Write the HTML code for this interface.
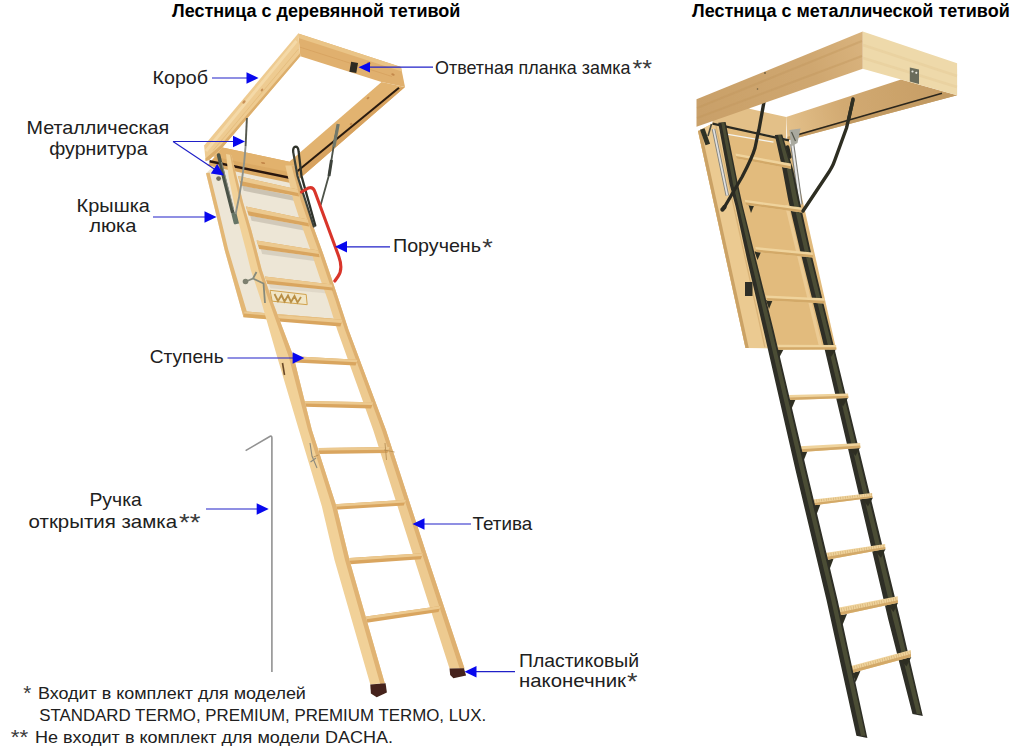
<!DOCTYPE html>
<html lang="ru">
<head>
<meta charset="utf-8">
<title>Лестница</title>
<style>
html,body{margin:0;padding:0;background:#fff;}
body{width:1024px;height:751px;overflow:hidden;font-family:"Liberation Sans",sans-serif;}
svg{display:block;}
text{font-family:"Liberation Sans",sans-serif;fill:#202020;}
.as{font-size:24px;fill:#3a3a3a;}
.f{font-size:16.6px;}
.fa{font-size:21px;fill:#3a3a3a;}
.t{font-size:19px;}
.b{font-size:18px;font-weight:bold;fill:#000;}
.ar{stroke:#2020c8;stroke-width:1.2;fill:none;}
.ah{fill:#0808ee;stroke:none;}
</style>
</head>
<body>
<svg width="1024" height="751" viewBox="0 0 1024 751">
<defs>
<linearGradient id="wood1" x1="0" y1="0" x2="1" y2="0">
<stop offset="0" stop-color="#e6bd7f"/><stop offset="1" stop-color="#d9a662"/>
</linearGradient>
<filter id="soft" x="-5%" y="-5%" width="110%" height="110%"><feGaussianBlur stdDeviation="0.45"/></filter>
<linearGradient id="longface" gradientUnits="userSpaceOnUse" x1="697" y1="110" x2="862" y2="50"><stop offset="0" stop-color="#c9a069"/><stop offset="0.7" stop-color="#cfa770"/><stop offset="1" stop-color="#d8b27c"/></linearGradient>
<linearGradient id="farside" gradientUnits="userSpaceOnUse" x1="787" y1="128" x2="950" y2="88"><stop offset="0" stop-color="#e3c08a"/><stop offset="0.35" stop-color="#d2aa72"/><stop offset="1" stop-color="#c59c64"/></linearGradient>
</defs>
<rect x="0" y="0" width="1024" height="751" fill="#ffffff"/>

<!-- LEFT LADDER -->
<g id="leftLadder" filter="url(#soft)">
<!--LL-START-->
<!-- box: back rail (inner face) -->
<polygon points="298.2,33.5 401,67 405,87 381.5,82 300.3,56.2" fill="#e0b06e"/>
<polygon points="298.2,33.5 401,67 401.8,71.5 298.6,38" fill="#eac486"/>
<path d="M299.5 47L392 76.5" stroke="#c98f4c" stroke-width="0.8" fill="none" opacity="0.45"/>
<!-- box: right rail -->
<polygon points="381.5,82 405,87 299.5,178.8 289.6,161.5" fill="#e2b370"/>
<polygon points="397.5,88 405,87 299.5,178.8 296.5,173" fill="#d7a25e"/>
<path d="M399,87.8L297,171.5" stroke="#2a1a10" stroke-width="2.1" fill="none"/>
<!-- box: left rail (outer face) -->
<polygon points="298.2,33.5 300.3,56.2 222.4,147.4 209.2,160 205.6,161.1 204.1,145.6" fill="#eecb91"/>
<polygon points="300,53.2 300.3,56.2 222.4,147.4 209.2,160 205.6,161.1 205.4,158.6 220.5,145.5" fill="#dcae6c"/>
<path d="M296.5 41L206 151" stroke="#f6deb0" stroke-width="3" fill="none" opacity="0.7"/>
<path d="M298.5 49L213 150.5" stroke="#dcae6c" stroke-width="0.8" fill="none" opacity="0.6"/>
<!-- hatch -->
<polygon points="206,173.3 216.6,216.6 224.6,250 243.5,317.3 344.5,326.3 325,270 296,166 222,158" fill="#ede6d6"/>
<polygon points="206,173.3 209.6,172.4 220.2,215.8 228.2,249.2 247.5,313.8 243.5,317.3 224.6,250 216.6,216.6" fill="#e3b775"/>
<!-- rung shadows on panel -->
<g fill="#c2baaa">
<polygon opacity="0.8" points="242.1,185.6 293.0,195.8 294.0,200.8 243.6,190.8"/>
<polygon opacity="0.65" points="250.1,215.6 303.0,225.6 304.0,230.6 251.6,220.8"/>
<polygon opacity="0.5" points="260.7,249.1 313.6,256.4 314.6,261.0 262.2,253.9"/>
<polygon opacity="0.3" points="268.9,284.1 327.2,289.6 328.2,293.6 270.4,288.3"/>
</g>
<polygon points="243.5,317.3 244.3,311.3 343,319.5 344.5,326" fill="#dba961"/>
<polygon points="244,313.5 244.3,311.3 343,319.5 343.5,321.8" fill="#eac78d"/>
<!-- front rail of box -->
<polygon points="222.4,147.4 291.9,162.3 296.7,184.2 207.5,165.6" fill="#dba964"/>
<polygon points="222.4,147.4 291.9,162.3 294,173 213,156.5" fill="#e2b26d"/>
<path d="M209.5,161.3L295.8,179" stroke="#2a1810" stroke-width="2.4" fill="none"/>
<!-- hinge arm left -->
<path d="M218.6,155L224,178L232.6,212" stroke="#4b5246" stroke-width="3.6" fill="none" stroke-linecap="round"/>
<path d="M221.5,162L233.8,210" stroke="#8d9186" stroke-width="0.9" fill="none"/>
<rect x="232.5" y="212" width="7.5" height="12" rx="1.5" fill="#667466" transform="rotate(-14 236 218)"/>
<circle cx="218.6" cy="178.6" r="2.4" fill="#6d6a58"/>
<!-- right stringer -->
<polygon points="285.3,165.5 293.3,200.0 302.0,226.6 311.6,253.2 319.2,276.0 327.8,300.0 337.3,330.0 373.2,430.0 414.7,560.0 449.5,668.5 464.5,668.5 428.5,560.0 386.0,430.0 348.6,330.0 338.8,300.0 330.8,276.0 323.0,253.2 313.3,226.6 304.0,200.0 294.3,165.5" fill="#edca90"/>
<polygon points="291.4,165.5 300.6,200.0 309.7,226.6 319.4,253.2 327.1,276.0 335.3,300.0 345.0,330.0 381.9,430.0 424.1,560.0 459.7,668.5 464.5,668.5 428.5,560.0 386.0,430.0 348.6,330.0 338.8,300.0 330.8,276.0 323.0,253.2 313.3,226.6 304.0,200.0 294.3,165.5" fill="#deb06f"/>
<!-- rungs -->
<g fill="#d9a55f">
<polygon points="238.0,176.0 297.8,189.6 299.0,196.6 240.6,185.6"/>
<polygon points="246.0,206.6 307.8,219.6 309.0,226.4 248.6,215.6"/>
<polygon points="256.6,240.5 318.4,250.6 319.6,257.2 259.2,249.1"/>
<polygon points="264.8,276.5 332.0,284.4 333.2,290.4 267.4,284.1"/>
<polygon points="277.8,314.9 342.6,319.8 340.4,326.4 278.4,321.5"/>
<polygon points="293.7,356.3 357.7,359.7 355.5,365.5 294.3,362.6"/>
<polygon points="304.1,401.0 373.3,402.2 371.1,408.4 304.7,406.8"/>
<polygon points="318.6,447.9 389.6,447.0 387.4,453.0 319.2,454.0"/>
<polygon points="334.2,504.2 406.0,499.8 403.8,505.6 334.8,509.8"/>
<polygon points="349.5,558.0 423.0,553.2 420.8,559.2 350.1,564.2"/>
<polygon points="366.0,616.4 440.7,605.9 438.5,612.1 366.8,622.8"/>
</g>
<g fill="#ecc98f">
<polygon points="238.0,176.0 297.8,189.6 298.4,193.1 239.3,180.8"/>
<polygon points="246.0,206.6 307.8,219.6 308.4,223.0 247.3,211.1"/>
<polygon points="256.6,240.5 318.4,250.6 319.0,253.9 257.9,244.8"/>
<polygon points="264.8,276.5 332.0,284.4 332.6,287.4 266.1,280.3"/>
<polygon points="277.8,314.9 342.6,319.8 341.5,323.1 278.1,318.2"/>
<polygon points="293.7,356.3 357.7,359.7 356.7,362.3 294.0,359.1"/>
<polygon points="304.1,401.0 373.3,402.2 372.3,405.0 304.4,403.6"/>
<polygon points="318.6,447.9 389.6,447.0 388.6,449.7 318.9,450.6"/>
<polygon points="334.2,504.2 406.0,499.8 405.0,502.4 334.5,506.7"/>
<polygon points="349.5,558.0 423.0,553.2 422.0,555.9 349.8,560.8"/>
<polygon points="366.0,616.4 440.7,605.9 439.7,608.7 366.4,619.3"/>
</g>
<!-- left stringer -->
<polygon points="226.0,154.0 228.6,176.6 234.0,203.3 240.6,229.9 245.9,250.0 250.8,270.0 260.8,300.0 277.2,357.0 298.9,430.0 321.9,506.5 334.5,560.0 370.3,684.5 384.7,683.0 349.5,560.0 336.5,506.5 311.9,430.0 293.7,357.0 272.0,300.0 261.8,270.0 256.6,250.0 251.3,229.9 243.3,203.3 236.6,176.6 231.5,155.0" fill="#f1d198"/>
<polygon points="229.8,154.0 234.2,176.6 240.5,203.3 248.1,229.9 253.4,250.0 258.5,270.0 268.6,300.0 288.8,357.0 308.0,430.0 332.1,506.5 345.0,560.0 380.4,684.5 384.7,683.0 349.5,560.0 336.5,506.5 311.9,430.0 293.7,357.0 272.0,300.0 261.8,270.0 256.6,250.0 251.3,229.9 243.3,203.3 236.6,176.6 231.5,155.0" fill="#e0b373"/>
<!-- strut left (thin grey, in front of rail) -->
<path d="M246.9,118L245.6,146" stroke="#55584f" stroke-width="1.9" fill="none"/><path d="M245.6,146Q243.3,180 235.6,214" stroke="#8e928a" stroke-width="1.9" fill="none"/>
<!-- feet -->
<polygon points="370.3,684.5 385.6,683.2 386.9,692.5 376.7,697.3 370.9,693.4" fill="#45241a"/>
<polygon points="449.5,668.5 463.9,668.3 466.1,675.5 453.4,678.3 450.2,674.9" fill="#45241a"/>
<!-- dark bracket right (two bars, U top) -->
<path d="M293.1,151.5Q293,146.8 295.6,146.6Q298.2,146.6 298.6,151.5L301.5,176L315.3,225.5" stroke="#2e322b" stroke-width="2.3" fill="none" stroke-linecap="round"/>
<path d="M293.1,151.5L297.5,176L313.8,226.5" stroke="#3a3f38" stroke-width="2.2" fill="none" stroke-linecap="round"/>
<!-- right strut -->
<path d="M338,124.5L334.5,141L329,175L320.6,205.3" stroke="#4e534a" stroke-width="1.8" fill="none"/>
<path d="M338.2,124L333.8,147" stroke="#6f776b" stroke-width="3.2" fill="none"/>
<path d="M331.5,160L329,176" stroke="#3e423b" stroke-width="3" fill="none"/>
<!-- red handrail -->
<path d="M301.5,192L308.5,188Q313,186.5 315,192L338.8,256.5Q343.3,269 338,276.5L334.8,281" stroke="#d9362c" stroke-width="3.1" fill="none" stroke-linecap="round"/>
<!-- latch + logo -->
<path d="M244.5,282L253,278.5L256.5,272M253,278.5L263.5,283.5L265,303" stroke="#868a7c" stroke-width="1.8" fill="none"/>
<circle cx="245.5" cy="281.5" r="2.8" fill="#7d806f"/>
<polygon points="270,290.3 306.2,294.5 307.2,304.7 272.2,301.2" fill="#f1e6c6" stroke="#d1a24d" stroke-width="1"/>
<path d="M274.5,294l3.5,7l3.5,-6l3,6.5l3.5,-6l3,6.5l3.5,-6l3,6.5l3.5,-5.5" stroke="#b98f45" stroke-width="1.8" fill="none"/>
<!-- lock plate -->
<rect x="350.2" y="62.2" width="7" height="10.2" fill="#2e2a22" transform="rotate(10 353.7 67.3)"/>
<!-- knots -->
<g fill="#b9793f" opacity="0.7">
<ellipse cx="244" cy="102" rx="1.3" ry="2" transform="rotate(40 244 102)"/>
<ellipse cx="262" cy="90" rx="1" ry="1.6" transform="rotate(40 262 90)"/>
<ellipse cx="369" cy="63" rx="2" ry="1" transform="rotate(20 369 63)"/>
<ellipse cx="393" cy="74.5" rx="1.8" ry="1" transform="rotate(20 393 74.5)"/>
<ellipse cx="368" cy="98" rx="1.6" ry="1" transform="rotate(-40 368 98)"/>
<ellipse cx="351" cy="124" rx="1.4" ry="0.9" transform="rotate(-40 351 124)"/>
<ellipse cx="263" cy="163" rx="2.2" ry="0.9" transform="rotate(12 263 163)"/>
</g>
<!-- slot on left stringer + hinges on mid section -->
<path d="M282.5,363L284.5,375" stroke="#6a4a28" stroke-width="1.6" fill="none"/>
<path d="M310,443L312,456L317,468M310.5,462L316,458" stroke="#8d8a7c" stroke-width="1.1" fill="none"/>
<path d="M313.5,457L318.5,455M384,450L394.5,452M385,443L386.5,460" stroke="#b38a50" stroke-width="0.8" fill="none"/>
<!-- handle rod (opening tool) -->
<path d="M245.6,450.6L270.2,436.3Q271.9,435.5 271.9,438V672" stroke="#929292" stroke-width="1.6" fill="none"/>
<!--LL-END-->
</g>

<!-- RIGHT LADDER -->
<g id="rightLadder" filter="url(#soft)">
<!--RL-START-->
<!-- box far long side (inner face) -->
<polygon points="901,79.6 957.1,95.2 787.5,140.6 786.2,117.1" fill="url(#farside)"/>
<polygon points="942,93.6 957.1,95.2 787.5,140.6 787.3,136.8" fill="#c29a62"/>
<path d="M942,93.3L797,135" stroke="#2a251c" stroke-width="1.6" fill="none"/>
<!-- box short end face (right) -->
<polygon points="862.7,31.5 957.1,63.2 957.1,95.2 862.7,68.7" fill="#eed9aa"/>
<path d="M863,45L957,76M863,58L957,87" stroke="#e6cc98" stroke-width="2.5" fill="none" opacity="0.5"/>
<!-- near short end inner face -->
<polygon points="712.5,118 748.6,104 749.5,108.8 786.2,117.1 786.2,138.6 712.5,123.6" fill="#e3c088"/>
<!-- lock plate -->
<polygon points="909.8,67.6 919,69.6 919,84 909.8,81.6" fill="#6a6c5c"/>
<circle cx="912.5" cy="71.5" r="1.1" fill="#e8e8e0"/><circle cx="916.3" cy="72.8" r="1.1" fill="#e8e8e0"/>
<!-- struts behind long face -->
<path d="M764.5,99L756,146" stroke="#2c2c22" stroke-width="3.4" fill="none" stroke-linecap="round"/>
<path d="M853,99L849,118" stroke="#2c2c22" stroke-width="3.4" fill="none" stroke-linecap="round"/>
<!-- box long side face -->
<polygon points="696.5,99.3 862.7,31.5 862.7,68.7 696.5,126.8" fill="url(#longface)"/>
<path d="M697,108L862,41M697,118L862,56" stroke="#c0955c" stroke-width="2.2" fill="none" opacity="0.4"/>
<circle cx="765" cy="73" r="0.9" fill="#6b5a3c"/><circle cx="757.5" cy="89" r="0.8" fill="#6b5a3c"/>
<!-- hatch -->
<polygon points="698,131 745.5,348 836,348.5 789,140 712.5,123.6" fill="#e2bb7d"/>
<polygon points="698,131 712.5,123.6 718.5,122.8 735.5,206 747.2,260 768.3,348.2 745.5,348" fill="#ebca91"/>
<polygon points="698,131 701.2,130.2 748.8,348 745.5,348" fill="#cba265"/>
<path d="M716,126L764.8,347" stroke="#d9b377" stroke-width="1.2" fill="none"/>
<path d="M786.5,205L820.5,346" stroke="#eccb94" stroke-width="3.2" fill="none"/>
<!-- hinge rod -->
<path d="M712.5,123.6L789,140.4" stroke="#2b2b22" stroke-width="2.2" fill="none"/>
<path d="M728,134.3L773.5,142.2" stroke="#f4f4f0" stroke-width="1.3" fill="none"/>
<!-- left bracket -->
<path d="M702.3,129L707.8,144.5" stroke="#2f3027" stroke-width="4.8" fill="none"/>
<path d="M711.5,124L708,136" stroke="#44453a" stroke-width="1.6" fill="none"/>
<!-- gas springs -->
<path d="M713.5,129L727.3,195.5" stroke="#85857f" stroke-width="3.6" fill="none"/>
<path d="M713.5,129L727.3,195.5" stroke="#e0e0e0" stroke-width="1.7" fill="none"/>
<path d="M792.2,144L800.6,204.5" stroke="#7d7d77" stroke-width="4.2" fill="none"/>
<path d="M792.2,144L800.6,204.5" stroke="#e8e8e8" stroke-width="2" fill="none"/>
<path d="M787.5,147L789.8,157" stroke="#2a2b22" stroke-width="3.6" fill="none" stroke-linecap="round"/>
<path d="M789.5,130L800.5,128.5L797.5,143L791,146.5Z" fill="#a9a99f"/>
<path d="M791.5,132L795.5,141" stroke="#55564a" stroke-width="1.2" fill="none"/>
<!-- right stringer -->
<polygon points="774.8,135.0 782.6,170.0 788.2,200.0 795.3,230.0 799.5,248.0 822.4,339.8 855.4,480.0 888.4,620.0 912.5,713.9 922.8,716.0 900.4,620.0 866.4,480.0 832.3,339.8 810.0,248.0 806.0,230.0 799.5,200.0 793.3,170.0 782.2,134.4" fill="#2e2f25"/>
<polygon points="777.9,135.0 787.1,170.0 792.9,200.0 799.8,230.0 803.9,248.0 826.6,339.8 860.0,480.0 893.4,620.0 916.8,713.9 920.9,713.9 898.2,620.0 864.4,480.0 830.5,339.8 808.1,248.0 804.1,230.0 797.5,200.0 791.4,170.0 780.9,135.0" fill="#4c4d36"/>
<!-- rung brackets (dark triangles) -->
<g fill="#2e2f22">
<polygon points="777,349 783.5,349.5 779,358"/><polygon points="825.5,350 836,349.2 831,357"/>
<polygon points="789,399 795.5,399.5 791.5,409"/><polygon points="837.5,398.5 848,397.8 843,406.5"/>
<polygon points="800.5,451.5 807.5,451 803.5,461"/><polygon points="849.5,448.5 860,447.5 855.5,456"/>
<polygon points="813.5,505 820.5,504.3 816.5,514.5"/><polygon points="862,498.7 873,497.6 868,506.5"/>
<polygon points="826.5,559.8 833.5,558.8 829.5,569.5"/><polygon points="875,550.5 885.5,549 881,558"/>
<polygon points="839.5,615.3 847,614 842.5,625"/><polygon points="887.5,604.7 898,602.8 893.5,612"/>
<polygon points="852.5,672.8 860.5,670.8 855.5,682.5"/><polygon points="900.5,660 911.3,657 906.5,666.5"/>
<polygon points="748.5,205 754,205.8 751,213"/>
<polygon points="754.5,251.5 761,252 757.5,260"/><polygon points="766,300 772.5,300.5 769,309"/>
</g>
<!-- rungs -->
<g fill="#efd39c">
<polygon points="735.5,153.4 790.8,163.6 791.1,168.8 736.5,158.6"/>
<polygon points="744.8,199.8 801.8,207.6 802.1,212.6 745.8,204.8"/>
<polygon points="755.4,247.1 812.7,252.5 813.0,257.5 756.4,252.1"/>
<polygon points="765.9,295.4 824.5,298.2 824.8,303.4 766.9,300.6"/>
<polygon points="777.0,344.8 836.1,345.0 836.4,349.6 778.0,349.8"/>
<polygon points="789.0,394.9 848.1,393.5 848.4,398.1 790.0,399.9"/>
<polygon points="799.9,446.3 860.1,442.9 860.4,447.9 800.9,452.1"/>
<polygon points="813.0,499.6 872.1,493.0 872.4,497.8 814.0,505.2"/>
<polygon points="824.9,552.9 885.1,543.9 885.4,549.1 825.9,559.9"/>
<polygon points="837.9,607.8 897.7,596.2 898.0,602.8 838.9,615.4"/>
<polygon points="851.0,665.9 910.7,649.9 911.0,656.9 852.0,672.9"/>
</g>
<g fill="#d3a968">
<polygon points="736.0,156.0 790.9,166.2 791.1,168.8 736.5,158.6"/>
<polygon points="745.3,202.3 801.9,210.1 802.1,212.6 745.8,204.8"/>
<polygon points="755.9,249.6 812.9,255.0 813.0,257.5 756.4,252.1"/>
<polygon points="766.4,298.0 824.6,300.8 824.8,303.4 766.9,300.6"/>
<polygon points="777.5,347.3 836.2,347.3 836.4,349.6 778.0,349.8"/>
<polygon points="789.5,397.4 848.2,395.8 848.4,398.1 790.0,399.9"/>
<polygon points="800.4,449.2 860.2,445.4 860.4,447.9 800.9,452.1"/>
<polygon points="813.5,503.0 872.2,495.9 872.4,497.8 814.0,505.2"/>
<polygon points="825.4,557.1 885.2,547.0 885.4,549.1 825.9,559.9"/>
<polygon points="838.4,612.4 897.9,600.2 898.0,602.8 838.9,615.4"/>
<polygon points="851.5,670.1 910.9,654.1 911.0,656.9 852.0,672.9"/>
</g>
<!-- tread ribs -->
<g stroke="#c39a5c" fill="none" stroke-dasharray="0.7 1.7" opacity="0.55">
<path d="M814,501L872.3,494.4" stroke-width="2.4"/>
<path d="M826,555.2L885.2,545.8" stroke-width="3"/>
<path d="M839,610.4L897.8,598.8" stroke-width="3.6"/>
<path d="M852,668.3L911,652.4" stroke-width="3.4"/>
</g>
<!-- left stringer -->
<polygon points="718.2,122.8 729.6,184.3 735.5,206.0 747.2,260.0 763.5,330.0 795.5,470.0 826.5,600.0 856.4,735.8 867.4,738.0 837.6,600.0 806.6,470.0 773.6,330.0 756.2,260.0 742.8,206.0 738.0,184.3 725.6,122.0" fill="#2e2f25"/>
<polygon points="721.3,122.8 733.1,184.3 738.6,206.0 751.0,260.0 767.7,330.0 800.2,470.0 831.2,600.0 861.0,735.8 865.4,735.8 835.6,600.0 804.6,470.0 771.8,330.0 754.6,260.0 741.5,206.0 736.5,184.3 724.3,122.8" fill="#4c4d36"/>
<!-- hinge bracket on hatch -->
<rect x="745" y="282" width="7.5" height="14" fill="#2e2f25"/>
<!-- struts lower (front) -->
<path d="M758.5,131L755,148Q752.5,157 742,177L724.5,207" stroke="#2c2c22" stroke-width="3.3" fill="none" stroke-linecap="round" stroke-linejoin="round"/>
<path d="M724.5,207L722.5,209.5" stroke="#2c2c22" stroke-width="4.4" fill="none" stroke-linecap="round"/>
<path d="M853,100L846.5,128L834.5,161Q832.5,167 827,175L803,211" stroke="#2e2e24" stroke-width="3.4" fill="none" stroke-linecap="round" stroke-linejoin="round"/>
<!--RL-END-->
</g>

<!-- ARROWS -->
<g id="arrows">
<!-- Короб -->
<path class="ar" d="M212 78H248"/><path class="ah" d="M258.5 78L246.5 72.3V83.7Z"/>
<!-- Металлическая фурнитура -->
<path class="ar" d="M173 141.5H234"/><path class="ah" d="M245 141.5L233 135.8V147.2Z"/>
<path class="ar" d="M173 141.5L215 169.5"/><path class="ah" d="M224 175.5L210.8 173.6L217.2 164.1Z"/>
<!-- Крышка люка -->
<path class="ar" d="M153 217H206"/><path class="ah" d="M216.5 217L204.5 211.3V222.7Z"/>
<!-- Ступень -->
<path class="ar" d="M227.5 358H294"/><path class="ah" d="M304.4 358L292.6 352.3V363.7Z"/>
<!-- Ответная планка -->
<path class="ar" d="M433 67.2H369"/><path class="ah" d="M358.5 67.2L370 61.9V72.5Z"/>
<!-- Поручень -->
<path class="ar" d="M390 246.8H346"/><path class="ah" d="M335 246.8L347 241.1V252.5Z"/>
<!-- Тетива -->
<path class="ar" d="M471 524H423"/><path class="ah" d="M412.5 524L424.5 518.3V529.7Z"/>
<!-- Пластиковый наконечник -->
<path class="ar" d="M515 671.7H476"/><path class="ah" d="M464.5 671.7L476.5 666V677.4Z"/>
<!-- Ручка -->
<path class="ar" d="M206 509H258"/><path class="ah" d="M268.7 509L256.7 503.3V514.7Z"/>
</g>

<!-- TEXT -->
<g id="labels">
<text class="b" x="172" y="16.6">Лестница с деревянной тетивой</text>
<text class="b" x="692" y="16.6">Лестница с металлической тетивой</text>

<text class="t" x="152.5" y="83.5" textLength="55.6" lengthAdjust="spacingAndGlyphs">Короб</text>
<text class="t" x="26.6" y="134" textLength="142.6" lengthAdjust="spacingAndGlyphs">Металлическая</text>
<text class="t" x="49.3" y="155" textLength="98.2" lengthAdjust="spacingAndGlyphs">фурнитура</text>
<text class="t" x="76.6" y="211.5" textLength="73.3" lengthAdjust="spacingAndGlyphs">Крышка</text>
<text class="t" x="89.2" y="232" textLength="47.3" lengthAdjust="spacingAndGlyphs">люка</text>
<text class="t" x="149.8" y="362.6" textLength="73.8" lengthAdjust="spacingAndGlyphs">Ступень</text>
<text class="t" x="393" y="252.3" textLength="88" lengthAdjust="spacingAndGlyphs">Поручень</text>
<text class="as" x="482.3" y="255.9" textLength="10.5" lengthAdjust="spacingAndGlyphs">*</text>
<text class="t" x="435" y="73.7" textLength="195.5" lengthAdjust="spacingAndGlyphs">Ответная планка замка</text>
<text class="as" x="632.5" y="77.4" textLength="19.5" lengthAdjust="spacingAndGlyphs">**</text>
<text class="t" x="89.4" y="506.2" textLength="52.5" lengthAdjust="spacingAndGlyphs">Ручка</text>
<text class="t" x="28.6" y="527.8" textLength="148.5" lengthAdjust="spacingAndGlyphs">открытия замка</text>
<text class="as" x="179" y="531.4" textLength="21.4" lengthAdjust="spacingAndGlyphs">**</text>
<text class="t" x="472.5" y="530" textLength="59.8" lengthAdjust="spacingAndGlyphs">Тетива</text>
<text class="t" x="519" y="666.5" textLength="120" lengthAdjust="spacingAndGlyphs">Пластиковый</text>
<text class="t" x="519" y="687" textLength="107" lengthAdjust="spacingAndGlyphs">наконечник</text>
<text class="as" x="627" y="690.4" textLength="10.5" lengthAdjust="spacingAndGlyphs">*</text>

<text class="fa" x="23.3" y="700.3" textLength="8" lengthAdjust="spacingAndGlyphs">*</text>
<text class="f" x="37.9" y="699.3" textLength="268" lengthAdjust="spacingAndGlyphs">Входит в комплект для моделей</text>
<text class="f" x="39.2" y="721" textLength="447" lengthAdjust="spacingAndGlyphs">STANDARD TERMO, PREMIUM, PREMIUM TERMO, LUX.</text>
<text class="fa" x="10.8" y="744.3" textLength="17.5" lengthAdjust="spacingAndGlyphs">**</text>
<text class="f" x="35" y="743.3" textLength="358" lengthAdjust="spacingAndGlyphs">Не входит в комплект для модели DACHA.</text>
</g>
</svg>
</body>
</html>
